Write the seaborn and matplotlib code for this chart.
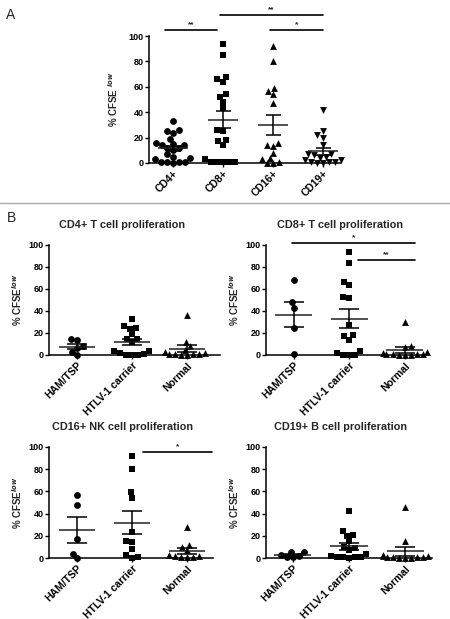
import numpy as np
import pandas as pd
import matplotlib
matplotlib.use("Agg")
import matplotlib.pyplot as plt
from matplotlib.lines import Line2D
import seaborn as sns

# Panel A: % CFSE low per cell type (all donors)
cell_types = ["CD4+", "CD8+", "CD16+", "CD19+"]
a_cd4 = [33, 26, 25, 24, 19, 16, 15, 14, 14, 12, 12, 10, 7, 5, 4, 3, 1, 0.5, 0.5, 1, 0]
a_cd8 = [94, 85, 68, 66, 64, 54, 52, 48, 43, 26, 25, 18, 17, 14, 3, 1, 1, 1, 1, 0.5]
a_cd16 = [92, 80, 59, 57, 54, 47, 16, 14, 13, 8, 4, 3, 1, 0, 0]
a_cd19 = [42, 25, 22, 20, 14, 7, 7, 6, 5, 4, 2, 2, 1, 1, 0.5, 0, 0]

# Panel B: split by donor group
groups = ["HAM/TSP", "HTLV-1 carrier", "Normal"]
cd4_ham = [14.5, 14, 8, 6, 3, 0.3]
cd4_car = [33, 26, 25, 24, 19, 15, 15, 12, 4, 4, 2, 0.3, 0, 0.3, 1]
cd4_nor = [36, 12, 8, 5, 3, 2, 1, 1, 0.5, 0.5, 0, 0]
cd8_ham = [68, 48, 43, 24.5, 0.5]
cd8_car = [94, 84, 64, 66, 53, 52, 27, 17, 18, 14, 3.6, 0.3, 0.3, 0.3, 1.8]
cd8_nor = [30, 8, 7, 3, 2, 1, 1, 0.5, 0.5, 0.3, 0, 0]
cd16_ham = [57, 48, 17, 4, 0.3]
cd16_car = [92, 80, 59.5, 54.4, 23.7, 14.1, 15.3, 8.4, 2.4, 0.3, 0.6]
cd16_nor = [28, 12, 10, 7, 3, 2, 2, 1, 1, 0.5]
cd19_ham = [5.5, 5, 3, 2, 1, 0.5]
cd19_car = [42, 24, 21, 20, 15, 10, 9, 7, 4, 2, 1, 1, 0.5, 0.5, 0]
cd19_nor = [46, 15, 3, 2, 2, 1, 1, 0.5, 0.5, 0, 0, 0]

W, H = 450, 619
sns.set_theme(style="ticks")
plt.rcParams["font.family"] = ["Liberation Sans", "DejaVu Sans"]
plt.rcParams["font.weight"] = "bold"
plt.rcParams["mathtext.fontset"] = "custom"
plt.rcParams["mathtext.rm"] = "Liberation Sans:bold"
plt.rcParams["mathtext.bf"] = "Liberation Sans:bold"

fig = plt.figure(figsize=(W / 100, H / 100), dpi=100)
swarms = []


def px_axes(l, r, t, b):
    return fig.add_axes([l / W, 1 - b / H, (r - l) / W, (b - t) / H])


def dot_plot(ax, cats, data, markers, xlim, mean_w=0.3, sem_w=0.16):
    for i, (cat, vals, m) in enumerate(zip(cats, data, markers)):
        df = pd.DataFrame({"group": cat, "value": vals})
        n_before = len(ax.collections)
        sns.swarmplot(data=df, x="group", y="value", order=cats, marker=m,
                      color="black", size=4.2, linewidth=0, ax=ax, warn_thresh=1)
        swarms.extend(ax.collections[n_before:])
        mean = np.mean(vals)
        sem = np.std(vals, ddof=1) / np.sqrt(len(vals))
        ax.hlines(mean, i - mean_w, i + mean_w, color="#222222", lw=1.1, zorder=5)
        ax.hlines([mean - sem, mean + sem], i - sem_w, i + sem_w, color="black", lw=1.1, zorder=5)
        ax.vlines(i, mean - sem, mean + sem, color="black", lw=1.1, zorder=5)
    for c in ax.collections:
        c.set_clip_on(False)
    ax.set_xlim(*xlim)
    ax.set_ylim(0, 100)
    ax.set_yticks([0, 20, 40, 60, 80, 100])
    ax.set_xlabel("")
    sns.despine(ax=ax)
    for s in ["left", "bottom"]:
        ax.spines[s].set_linewidth(1.1)
        ax.spines[s].set_color("black")
    ax.tick_params(length=3, width=1, pad=1, labelsize=6.5, colors="black")
    plt.setp(ax.get_xticklabels(), rotation=45, ha="right", rotation_mode="anchor",
             fontsize=7.5, fontweight="bold")
    plt.setp(ax.get_yticklabels(), fontweight="bold")


def sig_bar(ax, x1, x2, y, label):
    ax.plot([x1, x2], [y, y], color="black", lw=1.2, clip_on=False)
    ax.text((x1 + x2) / 2, y + 1.5, label, ha="center", va="bottom", fontsize=6, clip_on=False)


# ---- panel A ----
axA = px_axes(149, 341, 36, 163)
dot_plot(axA, cell_types, [a_cd4, a_cd8, a_cd16, a_cd19], ["o", "s", "^", "v"],
         (-0.48, 3.36), mean_w=0.3, sem_w=0.15)
axA.set_ylabel(r"% CFSE $^{low}$", fontsize=7, fontweight="bold", labelpad=6)
sig_bar(axA, -0.16, 0.88, 104.7, "**")
sig_bar(axA, 1.93, 3.0, 104.7, "*")
sig_bar(axA, 0.93, 3.0, 116.5, "**")

# ---- panel B ----
panels = [
    ("CD4+ T cell proliferation", (49, 220, 245, 355), (-0.51, 2.6), [cd4_ham, cd4_car, cd4_nor], 122),
    ("CD8+ T cell proliferation", (266, 422, 245, 355), (-0.5, 2.31), [cd8_ham, cd8_car, cd8_nor], 340),
    ("CD16+ NK cell proliferation", (49, 213, 447, 558), (-0.51, 2.47), [cd16_ham, cd16_car, cd16_nor], 122),
    ("CD19+ B cell proliferation", (266, 432, 447, 558), (-0.48, 2.48), [cd19_ham, cd19_car, cd19_nor], 340),
]
axes_b = []
for title, box, xl, data, tx in panels:
    ax = px_axes(*box)
    dot_plot(ax, groups, data, ["o", "s", "^"], xl, mean_w=0.33, sem_w=0.18)
    ax.set_ylabel(r"% CFSE$^{low}$", fontsize=7, fontweight="bold", labelpad=3)
    axes_b.append(ax)
    fig.text(tx / W, 1 - (box[2] - 20) / H, title,
             ha="center", va="center", fontsize=7.8, fontweight="bold")

sig_bar(axes_b[1], -0.04, 2.18, 101.5, "*")
sig_bar(axes_b[1], 1.15, 2.18, 86.4, "**")
sig_bar(axes_b[2], 1.2, 2.45, 95.5, "*")

# panel letters and separator
fig.text(6 / W, 1 - 15 / H, "A", fontsize=10, fontweight="normal", va="center")
fig.text(7 / W, 1 - 218 / H, "B", fontsize=10, fontweight="normal", va="center")
fig.add_artist(Line2D([0, 1], [1 - 203 / H] * 2, color="#aaaaaa", lw=1))

# seaborn lays out the swarm at draw time; fix it with the smaller size,
# then draw the markers a bit bigger so they overlap slightly like Prism does
fig.canvas.draw()
for c in swarms:
    if "draw" in c.__dict__:
        del c.draw
    c.set_sizes([4.9 ** 2])

fig.savefig("out.png", dpi=100)
